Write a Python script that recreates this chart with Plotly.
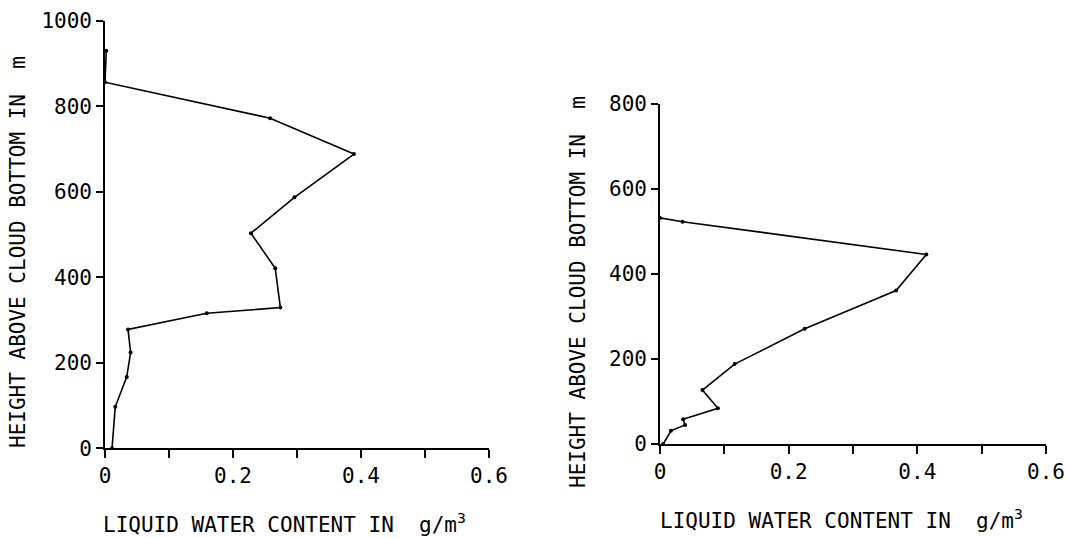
import plotly.graph_objects as go

# Left profile
left_lwc = [0.011, 0.016, 0.034, 0.040, 0.036, 0.159, 0.274, 0.266, 0.228, 0.296, 0.389, 0.258, 0.000, 0.002]
left_h = [0, 97, 167, 224, 278, 316, 329, 421, 503, 587, 688, 772, 856, 930]

# Right profile
right_lwc = [0.005, 0.017, 0.039, 0.036, 0.090, 0.066, 0.116, 0.225, 0.367, 0.414, 0.035, 0.000]
right_h = [0, 31, 45, 58, 84, 127, 188, 271, 361, 446, 523, 532]

x_tickvals = [0, 0.2, 0.4, 0.6]
x_ticktext = ["0", "0.2", "0.4", "0.6"]
left_yticks = [0, 200, 400, 600, 800, 1000]
right_yticks = [0, 200, 400, 600, 800]

FONT = "DejaVu Sans Mono"
W, H = 1070, 538

fig = go.Figure()
fig.add_trace(go.Scatter(x=left_lwc, y=left_h, mode="lines+markers",
                         line=dict(color="black", width=1.6),
                         marker=dict(color="black", size=4),
                         xaxis="x", yaxis="y", showlegend=False))
fig.add_trace(go.Scatter(x=right_lwc, y=right_h, mode="lines+markers",
                         line=dict(color="black", width=1.6),
                         marker=dict(color="black", size=4),
                         xaxis="x2", yaxis="y2", showlegend=False))

def px_x(p):
    return p / W

def px_y(p):
    return 1 - p / H

common_x = dict(range=[0, 0.6], tickvals=x_tickvals, ticktext=x_ticktext,
                showline=True, linecolor="black", linewidth=1.6,
                ticks="outside", ticklen=8, tickwidth=1.6, tickcolor="black",
                minor=dict(tick0=0, dtick=0.1, ticks="outside", ticklen=8,
                           tickwidth=1.6, tickcolor="black", showgrid=False),
                showgrid=False, zeroline=False, automargin=False,
                tickfont=dict(family=FONT, size=21, color="black"))
common_y = dict(showline=True, linecolor="black", linewidth=1.6,
                ticks="outside", ticklen=7, tickwidth=1.6, tickcolor="black",
                showgrid=False, zeroline=False, automargin=False,
                tickfont=dict(family=FONT, size=21, color="black"))

fig.update_layout(
    width=W, height=H,
    margin=dict(l=0, r=0, t=0, b=0, pad=0, autoexpand=False),
    paper_bgcolor="white", plot_bgcolor="white",
    xaxis=dict(domain=[px_x(105), px_x(489)], anchor="y", **common_x),
    yaxis=dict(domain=[px_y(448.3), px_y(20.7)], range=[0, 1000], tickvals=left_yticks,
               anchor="x", **common_y),
    xaxis2=dict(domain=[px_x(660), px_x(1046)], anchor="y2", **common_x),
    yaxis2=dict(domain=[px_y(444), px_y(104)], range=[0, 800], tickvals=right_yticks,
                anchor="x2", **common_y),
)

ytitle = "HEIGHT ABOVE CLOUD BOTTOM IN\u00a0\u00a0m"
xtitle = "LIQUID WATER CONTENT IN\u00a0\u00a0g/m<sup>3</sup>"
tfont = dict(family=FONT, size=21, color="black")

fig.add_annotation(text=ytitle, textangle=-90, xref="paper", yref="paper",
                   x=px_x(18), y=px_y(252), xanchor="center", yanchor="middle",
                   showarrow=False, font=tfont)
fig.add_annotation(text=ytitle, textangle=-90, xref="paper", yref="paper",
                   x=px_x(578), y=px_y(292), xanchor="center", yanchor="middle",
                   showarrow=False, font=tfont)
fig.add_annotation(text=xtitle, xref="paper", yref="paper",
                   x=px_x(101), y=px_y(523), xanchor="left", yanchor="middle",
                   showarrow=False, font=tfont)
fig.add_annotation(text=xtitle, xref="paper", yref="paper",
                   x=px_x(658), y=px_y(519), xanchor="left", yanchor="middle",
                   showarrow=False, font=tfont)

fig.write_html("out.html", config={"displayModeBar": False},
               post_script="document.body.style.margin='0';document.body.style.overflow='hidden';")
